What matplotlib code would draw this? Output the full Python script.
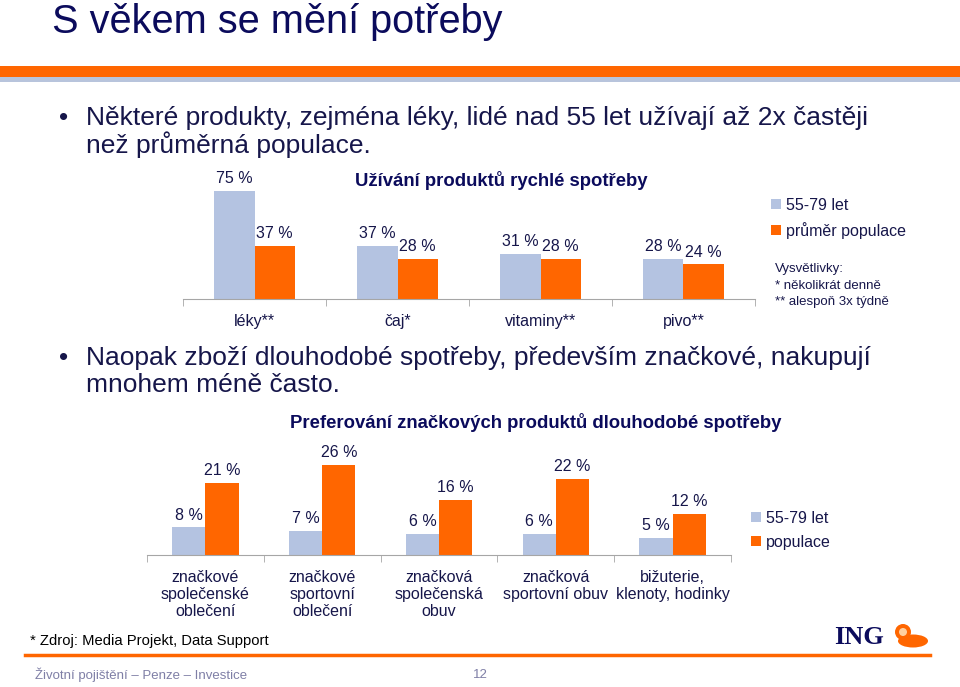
import numpy as np
import matplotlib
matplotlib.use('Agg')
import matplotlib.pyplot as plt
from matplotlib.patches import Rectangle, Ellipse, Circle

W, H = 960, 687
NAVY = '#0b0b5c'
TEXT = '#16164a'
BLUE = '#b4c3e1'
ORANGE = '#ff6600'
GREY = '#a6a6a6'

# data: horní graf
top_categories = ['léky**', 'čaj*', 'vitaminy**', 'pivo**']
top_senior = [75, 37, 31, 28]
top_average = [37, 28, 28, 24]
top_legend = ['55-79 let', 'průměr populace']

# data: dolní graf
bottom_categories = ['značkové\nspolečenské\noblečení', 'značkové\nsportovní\noblečení',
                     'značková\nspolečenská\nobuv', 'značková\nsportovní obuv',
                     'bižuterie,\nklenoty, hodinky']
bottom_senior = [8, 7, 6, 6, 5]
bottom_average = [21, 26, 16, 22, 12]
bottom_legend = ['55-79 let', 'populace']

plt.rcParams['font.family'] = ['Liberation Sans', 'DejaVu Sans']

fig = plt.figure(figsize=(W / 100, H / 100), dpi=100)


def box(x0, y0, x1, y1):
    return [x0 / W, 1 - y1 / H, (x1 - x0) / W, (y1 - y0) / H]


# podkladová vrstva v pixelech
bg = fig.add_axes([0, 0, 1, 1])
bg.set_xlim(0, W)
bg.set_ylim(H, 0)
bg.axis('off')
bg.patch.set_alpha(0)

bg.text(52, 22, 'S věkem se mění potřeby', fontsize=28.6, color=NAVY, va='center')
bg.add_patch(Rectangle((0, 66), W, 11, color=ORANGE, lw=0))
bg.add_patch(Rectangle((0, 77), W, 5, color='#b8c4dc', lw=0))

bullets = [(118, 'Některé produkty, zejména léky, lidé nad 55 let užívají až 2x častěji', True),
           (145, 'než průměrná populace.', False),
           (358, 'Naopak zboží dlouhodobé spotřeby, především značkové, nakupují', True),
           (385, 'mnohem méně často.', False)]
for y, s, dot in bullets:
    if dot:
        bg.text(59, y, '•', fontsize=19, color=TEXT, va='center')
    bg.text(86, y, s, fontsize=19, color=TEXT, va='center')

# vysvětlivky
for y, s in [(269, 'Vysvětlivky:'), (286, '* několikrát denně'), (302, '** alespoň 3x týdně')]:
    bg.text(775, y, s, fontsize=9.5, color=TEXT, va='center')

bg.text(30, 641, '* Zdroj: Media Projekt, Data Support', fontsize=10.6, color='black', va='center')
bg.plot([25, 930], [655, 655], color=ORANGE, lw=2.5)
bg.text(35, 675, 'Životní pojištění – Penze – Investice', fontsize=9.5, color='#7f7fa6', va='center')
bg.text(480, 675, '12', fontsize=9.5, color='#7f7fa6', va='center', ha='center')

# logo ING
bg.text(834, 637, 'ING', family='Liberation Serif', weight='bold', fontsize=19, color=NAVY, va='center')
bg.add_patch(Ellipse((913, 641), 30, 13, color=ORANGE, lw=0))
bg.add_patch(Circle((903, 632), 8, color=ORANGE, lw=0))
bg.add_patch(Circle((903, 632), 4, color='#ffd0a0', lw=0))


def bar_chart(rect, cats, s1, s2, labels, ymax, pad, title, title_xy, leg_xy):
    ax = fig.add_axes(box(*rect))
    ax.patch.set_alpha(0)
    n = len(cats)
    x = np.arange(n)
    w = 0.284
    b1 = ax.bar(x - w / 2, s1, w, color=BLUE, label=labels[0])
    b2 = ax.bar(x + w / 2, s2, w, color=ORANGE, label=labels[1])
    for bars in (b1, b2):
        ax.bar_label(bars, labels=[f'{v:g} %' for v in bars.datavalues],
                     padding=3.5, fontsize=11.5, color=TEXT)
    ax.set_xlim(-0.5, n - 0.5)
    ax.set_ylim(0, ymax)
    for s in ['top', 'right', 'left']:
        ax.spines[s].set_visible(False)
    ax.spines['bottom'].set_color(GREY)
    ax.set_yticks([])
    ax.set_xticks(x)
    ax.set_xticklabels(cats, fontsize=11.5, color=TEXT, linespacing=1.15)
    ax.set_xticks(np.arange(-0.5, n), minor=True)
    ax.tick_params(axis='x', which='major', length=0, pad=pad)
    ax.tick_params(axis='x', which='minor', length=5, color=GREY)
    ax.legend(loc='upper left', bbox_to_anchor=(leg_xy[0] / W, 1 - leg_xy[1] / H),
              bbox_transform=fig.transFigure, frameon=False, fontsize=11.5,
              handlelength=0.6, handleheight=0.6, handletextpad=0.35,
              labelspacing=0.55, borderaxespad=0, borderpad=0, labelcolor=TEXT)
    bg.text(title_xy[0], title_xy[1], title, fontsize=13.3, weight='bold',
            color=NAVY, ha='center', va='center')
    return ax


bar_chart((183, 170, 755, 299), top_categories, top_senior, top_average, top_legend,
          129 / 1.44, 11, 'Užívání produktů rychlé spotřeby', (501, 181), (771, 198))
bar_chart((147, 455, 731, 555), bottom_categories, bottom_senior, bottom_average, bottom_legend,
          100 / 3.45, 11, 'Preferování značkových produktů dlouhodobé spotřeby', (536, 423), (751, 511))

fig.savefig('out.png', dpi=100)
